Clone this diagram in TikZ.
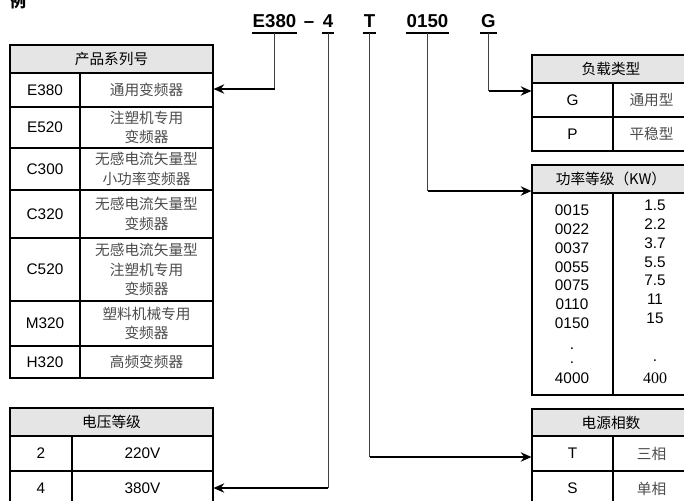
\documentclass[tikz,border=0pt]{standalone}
\usepackage{fontspec}
\setmainfont{Liberation Sans}
\newfontfamily\cjk{Noto Sans CJK SC}
\newfontfamily\numserif{Liberation Serif}
\usetikzlibrary{arrows.meta}

\tikzset{
  cellwh/.style 2 args={minimum width=(#1)*0.75pt, minimum height=(#2)*0.75pt},
  cell/.style={draw, line width=0.8pt, inner sep=0pt, font=\fontsize{11.5}{14}\selectfont},
  head/.style={cell, fill=black!10, font=\cjk\fontsize{11}{14}\selectfont},
  desc/.style={cell, align=center, text=black!70, font=\cjk\fontsize{11}{14.5}\selectfont},
  code/.style={font=\bfseries\fontsize{14}{16}\selectfont, inner xsep=0.6pt, anchor=base},
  num/.style={font=\fontsize{11.5}{14}\selectfont, anchor=base, inner sep=0pt},
  uline/.style={line width=1.6pt},
  link/.style={line width=0.6pt, black!75},
  arrow/.style={->, line width=2pt},
}

\begin{document}
\begin{tikzpicture}[x=0.75pt, y=-0.75pt, >={Stealth[length=8pt, width=7pt]}]
\useasboundingbox (0,0) rectangle (684,500);

\node[font=\cjk\bfseries\fontsize{12}{12}\selectfont, inner sep=0pt] (tag) at (18,1.5) {例};

% model code
\foreach \n/\t/\x in {ser/E380/274.5, volt/4/328, phase/T/369.5, kw/0150/427.5, load/G/488.5} {
  \node[code] (c-\n) at (\x,27) {\t};
  \coordinate (u-\n) at ([yshift=-4.5pt]c-\n.base);
  \draw[uline] (u-\n -| c-\n.west) -- (u-\n -| c-\n.east);
}
\node[code] (c-dash) at (309,27) {--};

% series
\node[head, cellwh={203}{28}] (ser-head) at (111.5,59) {产品系列号};
\foreach \c/\d/\t/\b in {E380/通用变频器/73/107, E520/{注塑机专用\\变频器}/107/148,
    C300/{无感电流矢量型\\小功率变频器}/148/190, C320/{无感电流矢量型\\变频器}/190/238,
    C520/{无感电流矢量型\\注塑机专用\\变频器}/238/301, M320/{塑料机械专用\\变频器}/301/346,
    H320/高频变频器/346/378} {
  \node[cell, cellwh={70}{\b-\t}] (ser-\c) at (45,{(\t+\b)/2}) {\c};
  \node[desc, cellwh={133}{\b-\t}] (ser-\c-d) at (146.5,{(\t+\b)/2}) {\d};
}

% voltage
\node[head, cellwh={203}{28}] (volt-head) at (111.5,422) {电压等级};
\foreach \c/\v/\t in {2/220V/436, 4/380V/471} {
  \node[cell, cellwh={62}{35}] (volt-\c) at (41,\t+17.5) {\c};
  \node[cell, cellwh={141}{35}] (volt-\c-v) at (142.5,\t+17.5) {\v};
}

% load type
\node[head, cellwh={158}{28}] (load-head) at (611,69) {负载类型};
\foreach \c/\d/\t in {G/通用型/83, P/平稳型/117} {
  \node[cell, cellwh={81}{34}] (load-\c) at (572.5,\t+17) {\c};
  \node[desc, cellwh={77}{34}] (load-\c-d) at (651.5,\t+17) {\d};
}

% power
\node[head, cellwh={158}{28}] (kw-head) at (611,179) {功率等级（KW）};
\node[cell, cellwh={81}{202}] (kw-code) at (572.5,294) {};
\node[cell, cellwh={77}{202}] (kw-val) at (651.5,294) {};
\foreach \t/\y [count=\i] in {0015/215.5, 0022/234.5, 0037/253.5, 0055/272.5, 0075/290.5,
    0110/309.5, 0150/328.5, ./349.5, ./363.5, 4000/383.5}
  \node[num] (kw-c\i) at (572,\y) {\t};
\foreach \t/\y [count=\i] in {1.5/210.5, 2.2/229.5, 3.7/248.5, 5.5/267.5, 7.5/285.5,
    11/304.5, 15/323.5, ./361.5}
  \node[num] (kw-v\i) at (655,\y) {\t};
\node[num, font=\numserif\fontsize{12}{14}\selectfont] (kw-v9) at (655,383.5) {400};

% phases
\node[head, cellwh={158}{27}] (ph-head) at (611,422.5) {电源相数};
\foreach \c/\d/\t in {T/三相/436, S/单相/471} {
  \node[cell, cellwh={81}{35}] (ph-\c) at (572.5,\t+17.5) {\c};
  \node[desc, cellwh={77}{35}] (ph-\c-d) at (651.5,\t+17.5) {\d};
}

% connectors
\foreach \n/\y/\to in {ser/89/ser-E380-d, volt/488/volt-4-v} {
  \coordinate (r-\n) at (0,\y);
  \coordinate (k-\n) at (u-\n |- r-\n);
  \draw[link] (u-\n) -- (k-\n);
  \draw[arrow] (k-\n) -- (k-\n -| \to.east);
}
\foreach \n/\y/\to in {phase/457/ph-T, kw/191/kw-head, load/91/load-G} {
  \coordinate (r-\n) at (0,\y);
  \coordinate (k-\n) at (u-\n |- r-\n);
  \draw[link] (u-\n) -- (k-\n);
  \draw[arrow] (k-\n) -- (k-\n -| \to.west);
}

\end{tikzpicture}
\end{document}
